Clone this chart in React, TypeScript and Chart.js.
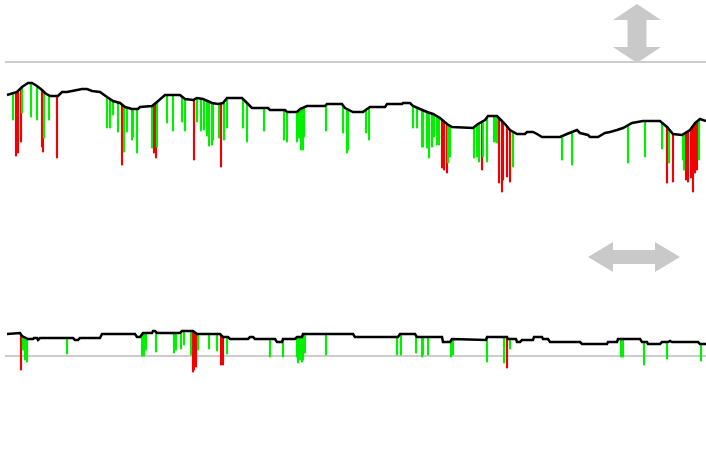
import { useEffect, useRef } from "react";
import { Chart, registerables } from "chart.js";

Chart.register(...registerables);

// ---------- Upper panel (values relative to the grey reference line = 0) ----------
const topLineX = [
  7, 17, 22, 28, 32, 37, 42, 45, 50, 58,
  62, 67, 82, 87, 92, 100, 107, 113, 120, 125,
  132, 138, 140, 152, 157, 165, 180, 185, 193, 197,
  203, 212, 218, 223, 227, 242, 247, 252, 268, 270,
  285, 287, 297, 300, 307, 325, 327, 342, 345, 353,
  363, 367, 370, 385, 387, 402, 403, 410, 413, 420,
  427, 433, 440, 447, 452, 473, 478, 485, 488, 497,
  500, 505, 510, 517, 525, 527, 533, 537, 542, 560,
  567, 572, 577, 580, 588, 590, 598, 605, 610, 617,
  623, 632, 643, 660, 667, 673, 682, 690, 695, 700,
  706,
];
const topLineV = [
  -33, -30, -25, -21, -21, -24, -28, -31, -34, -34,
  -30, -30, -27, -27, -29, -30, -35, -39, -41, -45,
  -47, -47, -45, -44, -40, -33, -33, -37, -38, -36,
  -37, -41, -42, -41, -36, -36, -41, -46, -46, -48,
  -48, -50, -50, -47, -44, -44, -42, -42, -46, -50,
  -50, -47, -45, -45, -42, -42, -41, -41, -44, -47,
  -50, -52, -56, -62, -65, -66, -62, -58, -54, -54,
  -57, -62, -68, -72, -72, -70, -70, -72, -75, -75,
  -72, -70, -68, -71, -73, -75, -75, -71, -70, -68,
  -66, -61, -59, -59, -65, -72, -73, -68, -61, -57,
  -59,
];
const topGreenX = [
  13, 22, 31, 37, 44, 49, 107, 110, 113, 118,
  124, 127, 132, 133, 137, 152, 157, 167, 173, 182,
  185, 197, 201, 204, 207, 209, 212, 213, 219, 224,
  227, 243, 247, 264, 284, 287, 297, 299, 301, 303,
  304, 326, 343, 347, 348, 366, 369, 413, 417, 422,
  423, 427, 429, 432, 434, 437, 439, 448, 450, 474,
  477, 479, 483, 487, 494, 496, 497, 513, 562, 572,
  628, 645, 662, 669, 683, 684, 699,
];
const topGreenLow = [
  -58, -51, -55, -58, -76, -58, -66, -66, -53, -70,
  -90, -70, -78, -75, -91, -86, -85, -61, -69, -60,
  -69, -60, -69, -68, -74, -84, -83, -78, -76, -78,
  -66, -66, -80, -69, -78, -80, -80, -76, -88, -88,
  -75, -69, -71, -91, -88, -71, -78, -66, -66, -85,
  -85, -86, -96, -85, -75, -83, -83, -101, -95, -96,
  -95, -100, -95, -100, -80, -80, -81, -105, -98, -103,
  -101, -95, -87, -101, -98, -108, -98,
];
const topRedX = [
  16, 18, 21, 42, 43, 57, 122, 154, 156, 194,
  221, 442, 444, 447, 482, 499, 502, 503, 507, 510,
  667, 673, 686, 688, 691, 693, 695, 697,
];
const topRedLow = [
  -94, -91, -80, -85, -90, -96, -103, -91, -96, -98,
  -105, -106, -108, -111, -108, -121, -130, -118, -115, -120,
  -121, -120, -118, -120, -116, -130, -111, -108,
];

// ---------- Lower panel ----------
const botLineX = [
  7, 20, 22, 28, 33, 34, 37, 38, 40, 73,
  75, 78, 80, 100, 102, 135, 137, 140, 143, 152,
  153, 155, 157, 180, 182, 193, 197, 220, 223, 228,
  230, 248, 250, 253, 255, 275, 277, 282, 283, 295,
  297, 302, 303, 353, 355, 398, 400, 415, 417, 442,
  443, 450, 452, 486, 487, 507, 508, 516, 517, 520,
  522, 533, 534, 542, 543, 548, 550, 580, 582, 607,
  608, 617, 618, 640, 642, 647, 648, 660, 662, 668,
  670, 672, 698, 700, 706,
];
const botLineV = [
  22, 23, 20, 17, 17, 18, 18, 16, 18, 18,
  16, 16, 18, 18, 22, 22, 19, 19, 23, 23,
  25, 25, 23, 23, 25, 25, 22, 22, 19, 19,
  17, 17, 19, 19, 17, 17, 14, 14, 17, 17,
  19, 19, 22, 22, 19, 19, 22, 22, 19, 19,
  14, 14, 17, 16, 19, 19, 17, 17, 14, 14,
  16, 16, 19, 19, 17, 17, 14, 14, 12, 12,
  14, 14, 17, 17, 14, 14, 12, 12, 14, 14,
  15, 14, 14, 12, 12,
];
const botGreenX = [
  23, 25, 27, 67, 142, 144, 146, 156, 174, 176,
  181, 184, 191, 198, 209, 217, 227, 270, 283, 297,
  298, 300, 302, 303, 305, 326, 397, 401, 416, 422,
  423, 428, 451, 453, 487, 504, 510, 621, 623, 644,
  667, 701,
];
const botGreenLow = [
  6, -4, -6, 2, 0, 0, 6, 4, 3, 6,
  7, 11, 1, 6, 7, 5, 2, -1, -1, -1,
  -7, -4, -6, -4, 3, 1, 1, 1, 3, -1,
  1, 1, -1, 1, -6, -7, 7, -1, -1, -9,
  -3, -5,
];
const botRedX = [21, 193, 194, 196, 221, 223, 507];
const botRedLow = [-14, -16, -14, -11, -9, -9, -12];

const refLineX = [5, 706];

function lineAt(xs: number[], vs: number[], x: number): number {
  if (x <= xs[0]) return vs[0];
  for (let i = 1; i < xs.length; i++) {
    if (x <= xs[i]) {
      const t = (x - xs[i - 1]) / (xs[i] - xs[i - 1] || 1);
      return vs[i - 1] + t * (vs[i] - vs[i - 1]);
    }
  }
  return vs[vs.length - 1];
}

const arrowPlugin = {
  id: "arrows",
  beforeDatasetsDraw(chart: any, _args: any, opts: any) {
    const a = opts && opts.arrow;
    if (!a) return;
    const { ctx } = chart;
    const xs = chart.scales.x;
    const ys = chart.scales.y;
    ctx.save();
    ctx.fillStyle = "#c9c9c9";
    ctx.beginPath();
    const hw = a.headHalf, hl = a.headLen, sw = a.shaftHalf;
    if (a.dir === "v") {
      const cx = xs.getPixelForValue(a.at);
      const t = ys.getPixelForValue(a.from);
      const b = ys.getPixelForValue(a.to);
      ctx.moveTo(cx, t);
      ctx.lineTo(cx + hw, t + hl);
      ctx.lineTo(cx + sw, t + hl);
      ctx.lineTo(cx + sw, b - hl);
      ctx.lineTo(cx + hw, b - hl);
      ctx.lineTo(cx, b);
      ctx.lineTo(cx - hw, b - hl);
      ctx.lineTo(cx - sw, b - hl);
      ctx.lineTo(cx - sw, t + hl);
      ctx.lineTo(cx - hw, t + hl);
    } else {
      const cy = ys.getPixelForValue(a.at);
      const l = xs.getPixelForValue(a.from);
      const r = xs.getPixelForValue(a.to);
      ctx.moveTo(l, cy);
      ctx.lineTo(l + hl, cy - hw);
      ctx.lineTo(l + hl, cy - sw);
      ctx.lineTo(r - hl, cy - sw);
      ctx.lineTo(r - hl, cy - hw);
      ctx.lineTo(r, cy);
      ctx.lineTo(r - hl, cy + hw);
      ctx.lineTo(r - hl, cy + sw);
      ctx.lineTo(l + hl, cy + sw);
      ctx.lineTo(l + hl, cy + hw);
    }
    ctx.closePath();
    ctx.fill();
    ctx.restore();
  },
};

function makeConfig(p: any): any {
  const drops = (xs: number[], lows: number[]) =>
    xs.map((x, i) => ({ x, y: [lineAt(p.lx, p.lv, x), lows[i]] }));
  return {
    type: "line",
    data: {
      datasets: [
        {
          type: "line",
          data: p.lx.map((x: number, i: number) => ({ x, y: p.lv[i] })),
          borderColor: "#000000",
          borderWidth: 2.5,
          pointRadius: 0,
          tension: 0,
          fill: false,
          order: 0,
        },
        {
          type: "bar",
          data: drops(p.gx, p.gl),
          backgroundColor: "#00f000",
          barThickness: 1.5,
          grouped: false,
          order: 1,
        },
        {
          type: "bar",
          data: drops(p.rx, p.rl),
          backgroundColor: "#f00000",
          barThickness: 1.5,
          grouped: false,
          order: 1,
        },
        {
          type: "line",
          data: refLineX.map((x) => ({ x, y: 0 })),
          borderColor: "#cccccc",
          borderWidth: 2,
          pointRadius: 0,
          fill: false,
          order: 2,
        },
      ],
    },
    options: {
      animation: false,
      responsive: false,
      events: [],
      layout: { padding: 0 },
      plugins: {
        legend: { display: false },
        tooltip: { enabled: false },
        arrows: { arrow: p.arrow },
      },
      scales: {
        x: { type: "linear", min: 0, max: 706, display: false, offset: false },
        y: { type: "linear", min: p.ymin, max: p.ymax, display: false },
      },
    },
    plugins: [arrowPlugin],
  };
}

const panels = [
  {
    lx: topLineX, lv: topLineV, gx: topGreenX, gl: topGreenLow, rx: topRedX, rl: topRedLow,
    ymin: -163, ymax: 62,
    arrow: { dir: "v", at: 637, from: 58, to: -1, headHalf: 24, headLen: 16, shaftHalf: 9.5 },
  },
  {
    lx: botLineX, lv: botLineV, gx: botGreenX, gl: botGreenLow, rx: botRedX, rl: botRedLow,
    ymin: -94, ymax: 131,
    arrow: { dir: "h", at: 99, from: 588, to: 680, headHalf: 15, headLen: 25, shaftHalf: 7 },
  },
];

function Panel({ p }: { p: any }) {
  const ref = useRef<HTMLCanvasElement | null>(null);
  useEffect(() => {
    if (!ref.current) return;
    const chart = new Chart(ref.current, makeConfig(p));
    return () => chart.destroy();
  }, [p]);
  return <canvas ref={ref} width={706} height={225} style={{ display: "block" }} />;
}

export default function App() {
  return (
    <div style={{ position: "absolute", left: 0, top: 0, width: 706, height: 450, background: "#ffffff" }}>
      {panels.map((p, i) => (
        <Panel key={i} p={p} />
      ))}
    </div>
  );
}
